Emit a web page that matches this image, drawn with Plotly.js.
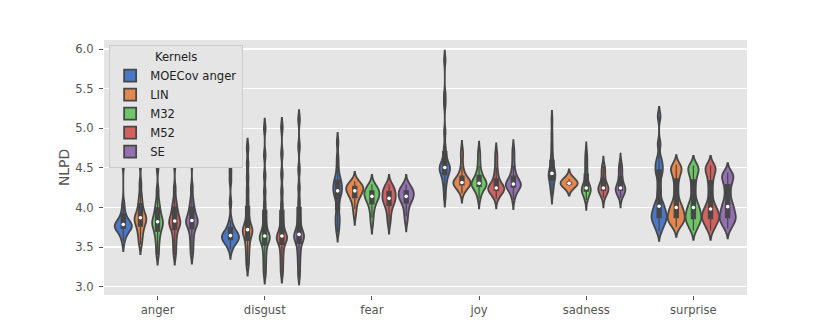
<!DOCTYPE html>
<html>
<head>
<meta charset="utf-8">
<script src="https://cdn.plot.ly/plotly-3.0.1.min.js"></script>
<style>
  html, body { margin: 0; padding: 0; background: #fff; }
  #gd { width: 830px; height: 332px; }
</style>
</head>
<body>
<div id="gd"></div>
<script>
// categories on the x axis and the kernels (hue)
var emotions = ['anger', 'disgust', 'fear', 'joy', 'sadness', 'surprise'];
var kernels = ['MOECov anger', 'LIN', 'M32', 'M52', 'SE'];
var colors = ['#4a78c8', '#e4864f', '#6cc566', '#d06262', '#9370b2'];

// NLPD samples per emotion (same order as emotions), estimated from the violin shapes
var moecov = [
  [3.57, 3.64, 3.68, 3.71, 3.73, 3.74, 3.75, 3.76, 3.77, 3.78, 3.79, 3.80, 3.82, 3.85, 3.89, 3.95, 4.05, 4.56, 4.60, 4.78],
  [3.47, 3.52, 3.55, 3.57, 3.59, 3.60, 3.61, 3.62, 3.63, 3.64, 3.65, 3.66, 3.68, 3.70, 3.73, 3.77, 3.84, 4.06, 4.34, 4.48],
  [3.69, 3.76, 3.82, 3.87, 3.92, 4.02, 4.10, 4.15, 4.18, 4.20, 4.22, 4.25, 4.28, 4.30, 4.33, 4.36, 4.41, 4.50, 4.62, 4.82],
  [4.13, 4.24, 4.31, 4.36, 4.40, 4.43, 4.46, 4.48, 4.49, 4.50, 4.51, 4.53, 4.56, 4.60, 4.66, 4.75, 4.95, 5.30, 5.42, 5.86],
  [4.17, 4.22, 4.26, 4.30, 4.33, 4.36, 4.38, 4.40, 4.41, 4.42, 4.44, 4.46, 4.49, 4.53, 4.57, 4.62, 4.70, 4.80, 4.93, 5.10],
  [3.70, 3.76, 3.80, 3.83, 3.86, 3.88, 3.90, 3.93, 3.96, 4.00, 4.03, 4.08, 4.20, 4.38, 4.45, 4.50, 4.55, 4.62, 4.80, 5.15]
];
var lin = [
  [3.53, 3.60, 3.66, 3.71, 3.75, 3.78, 3.81, 3.83, 3.85, 3.86, 3.88, 3.90, 3.93, 3.97, 4.02, 4.08, 4.16, 4.30, 4.55, 4.85],
  [3.26, 3.35, 3.43, 3.50, 3.56, 3.61, 3.65, 3.68, 3.70, 3.71, 3.73, 3.76, 3.80, 3.86, 3.95, 4.08, 4.22, 4.38, 4.55, 4.75],
  [3.90, 3.98, 4.04, 4.08, 4.11, 4.14, 4.16, 4.18, 4.19, 4.20, 4.22, 4.23, 4.24, 4.25, 4.26, 4.27, 4.28, 4.29, 4.31, 4.33],
  [4.18, 4.22, 4.25, 4.27, 4.28, 4.29, 4.30, 4.30, 4.31, 4.31, 4.32, 4.33, 4.34, 4.36, 4.38, 4.41, 4.45, 4.52, 4.64, 4.72],
  [4.27, 4.28, 4.28, 4.29, 4.29, 4.29, 4.30, 4.30, 4.30, 4.30, 4.31, 4.31, 4.31, 4.32, 4.32, 4.32, 4.33, 4.33, 4.34, 4.36],
  [3.75, 3.79, 3.82, 3.84, 3.86, 3.88, 3.90, 3.93, 3.96, 3.99, 4.01, 4.05, 4.12, 4.22, 4.32, 4.40, 4.45, 4.48, 4.51, 4.54]
];
var m32 = [
  [3.40, 3.49, 3.57, 3.63, 3.68, 3.72, 3.75, 3.78, 3.80, 3.81, 3.83, 3.86, 3.89, 3.93, 3.97, 4.02, 4.09, 4.22, 4.50, 4.85],
  [3.16, 3.26, 3.35, 3.43, 3.50, 3.55, 3.59, 3.61, 3.62, 3.63, 3.65, 3.69, 3.74, 3.81, 3.90, 4.03, 4.20, 4.40, 4.66, 5.00],
  [3.79, 3.87, 3.94, 3.99, 4.03, 4.06, 4.09, 4.11, 4.12, 4.13, 4.15, 4.16, 4.18, 4.19, 4.20, 4.22, 4.23, 4.25, 4.27, 4.29],
  [4.11, 4.17, 4.21, 4.24, 4.26, 4.27, 4.28, 4.29, 4.30, 4.30, 4.31, 4.32, 4.34, 4.36, 4.39, 4.42, 4.46, 4.53, 4.62, 4.71],
  [4.09, 4.13, 4.16, 4.18, 4.20, 4.21, 4.22, 4.23, 4.23, 4.24, 4.25, 4.27, 4.30, 4.34, 4.39, 4.45, 4.51, 4.57, 4.63, 4.70],
  [3.71, 3.76, 3.80, 3.83, 3.85, 3.87, 3.90, 3.92, 3.95, 3.99, 4.01, 4.05, 4.12, 4.22, 4.31, 4.39, 4.44, 4.48, 4.51, 4.53]
];
var m52 = [
  [3.40, 3.49, 3.57, 3.64, 3.70, 3.74, 3.77, 3.79, 3.81, 3.82, 3.84, 3.87, 3.90, 3.94, 3.98, 4.03, 4.10, 4.24, 4.55, 4.90],
  [3.17, 3.27, 3.36, 3.44, 3.51, 3.56, 3.59, 3.61, 3.62, 3.63, 3.65, 3.69, 3.74, 3.81, 3.90, 4.03, 4.20, 4.42, 4.68, 5.01],
  [3.79, 3.86, 3.92, 3.97, 4.01, 4.04, 4.06, 4.08, 4.10, 4.11, 4.12, 4.14, 4.16, 4.18, 4.20, 4.21, 4.23, 4.25, 4.27, 4.29],
  [4.11, 4.15, 4.18, 4.20, 4.21, 4.22, 4.23, 4.24, 4.24, 4.24, 4.25, 4.26, 4.28, 4.31, 4.34, 4.38, 4.43, 4.50, 4.60, 4.69],
  [4.12, 4.15, 4.18, 4.20, 4.21, 4.22, 4.23, 4.24, 4.24, 4.24, 4.25, 4.26, 4.28, 4.31, 4.35, 4.39, 4.43, 4.47, 4.50, 4.52],
  [3.71, 3.76, 3.80, 3.83, 3.85, 3.87, 3.89, 3.91, 3.94, 3.97, 3.99, 4.03, 4.10, 4.20, 4.30, 4.38, 4.44, 4.48, 4.51, 4.53]
];
var se = [
  [3.41, 3.50, 3.58, 3.65, 3.71, 3.75, 3.78, 3.80, 3.82, 3.83, 3.84, 3.87, 3.90, 3.94, 3.98, 4.03, 4.11, 4.25, 4.58, 4.95],
  [3.15, 3.27, 3.37, 3.45, 3.52, 3.57, 3.60, 3.62, 3.64, 3.65, 3.67, 3.71, 3.76, 3.83, 3.93, 4.07, 4.25, 4.48, 4.77, 5.11],
  [3.82, 3.89, 3.95, 4.00, 4.04, 4.07, 4.09, 4.11, 4.12, 4.13, 4.15, 4.16, 4.18, 4.19, 4.20, 4.22, 4.23, 4.25, 4.27, 4.29],
  [4.10, 4.16, 4.20, 4.23, 4.25, 4.26, 4.27, 4.28, 4.29, 4.29, 4.30, 4.31, 4.33, 4.35, 4.38, 4.41, 4.46, 4.53, 4.63, 4.73],
  [4.12, 4.15, 4.18, 4.20, 4.21, 4.22, 4.22, 4.23, 4.23, 4.24, 4.25, 4.27, 4.30, 4.33, 4.37, 4.41, 4.45, 4.49, 4.52, 4.56],
  [3.73, 3.78, 3.81, 3.84, 3.86, 3.88, 3.90, 3.93, 3.96, 4.00, 4.02, 4.06, 4.12, 4.19, 4.26, 4.32, 4.36, 4.39, 4.42, 4.44]
];

var yTicks = [3.0, 3.5, 4.0, 4.5, 5.0, 5.5, 6.0];

var samples = [moecov, lin, m32, m52, se];
var edge = '#474747';
var font = 'DejaVu Sans, sans-serif';

function median(v) {
    var s = v.slice().sort(function(a, b) { return a - b; });
    var n = s.length;
    return n % 2 ? s[(n - 1) / 2] : (s[n / 2 - 1] + s[n / 2]) / 2;
}

var traces = [];
// one violin per (kernel, emotion); widths are scaled within each emotion like seaborn's scale_hue
kernels.forEach(function(k, ki) {
    emotions.forEach(function(e, ei) {
        var vals = samples[ki][ei];
        traces.push({
            type: 'violin',
            name: k,
            legendgroup: k,
            showlegend: ei === 0,
            offsetgroup: k,
            scalegroup: e,
            scalemode: 'width',
            x: vals.map(function() { return e; }),
            y: vals,
            bandwidth: 0.06,
            spanmode: 'soft',
            points: false,
            fillcolor: colors[ki],
            line: {color: edge, width: 1.8},
            box: {visible: true, width: 0.24, fillcolor: edge, line: {color: edge, width: 1.2}},
            meanline: {visible: false},
            hoverinfo: 'skip'
        });
    });
});

// white median dots
kernels.forEach(function(k, ki) {
    traces.push({
        type: 'scatter',
        mode: 'markers',
        orientation: 'v',
        offsetgroup: k,
        showlegend: false,
        x: emotions,
        y: samples[ki].map(median),
        marker: {color: '#ffffff', size: 3.6},
        hoverinfo: 'skip'
    });
});

var layout = {
    width: 830,
    height: 332,
    margin: {l: 104, r: 83, t: 40, b: 37},
    paper_bgcolor: '#ffffff',
    plot_bgcolor: '#e5e5e5',
    font: {family: font, size: 11.6, color: '#555555'},
    violinmode: 'group',
    violingap: 0.2,
    violingroupgap: 0,
    scattermode: 'group',
    scattergap: 0.2,
    xaxis: {
        type: 'category',
        categoryorder: 'array',
        categoryarray: emotions,
        range: [-0.5, 5.5],
        showgrid: false,
        zeroline: false,
        ticks: 'outside',
        ticklen: 4,
        tickwidth: 1,
        tickcolor: '#555555',
        tickfont: {family: font, size: 11.6, color: '#555555'}
    },
    yaxis: {
        range: [2.895, 6.114],
        tickvals: yTicks,
        tickformat: '.1f',
        showgrid: true,
        gridcolor: '#ffffff',
        gridwidth: 1.2,
        zeroline: false,
        ticks: 'outside',
        ticklen: 4,
        tickwidth: 1,
        tickcolor: '#555555',
        ticklabelstandoff: 3,
        tickfont: {family: font, size: 11.6, color: '#555555'},
        title: {text: 'NLPD', font: {family: font, size: 13.9, color: '#555555'}, standoff: 2}
    },
    legend: {
        x: 0.008,
        y: 0.98,
        xanchor: 'left',
        yanchor: 'top',
        bgcolor: '#e5e5e5',
        bordercolor: '#cccccc',
        borderwidth: 1,
        tracegroupgap: 0,
        font: {family: font, size: 11.6, color: '#222222'},
        title: {text: 'Kernels', side: 'top center', font: {family: font, size: 11.6, color: '#222222'}}
    },
    showlegend: true
};

Plotly.newPlot('gd', traces, layout, {displayModeBar: false, staticPlot: true});
</script>
</body>
</html>
